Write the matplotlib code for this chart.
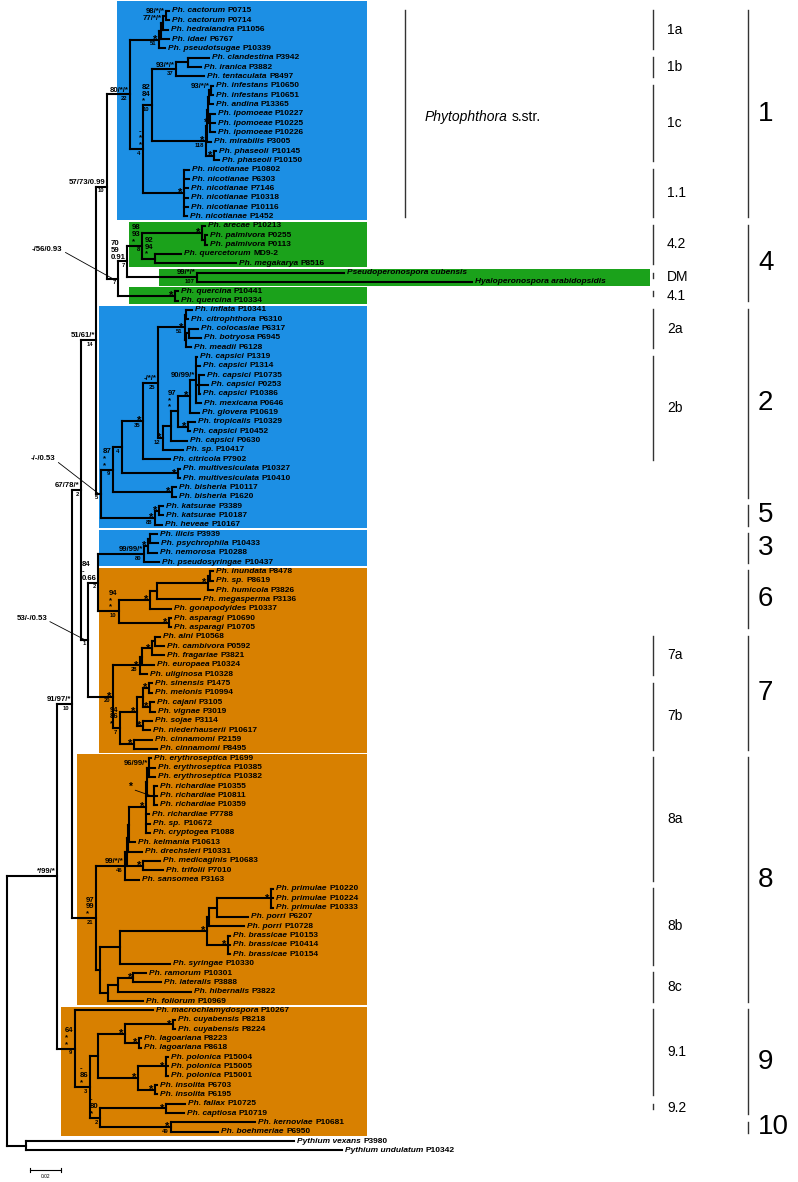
import matplotlib
matplotlib.use('Agg')
import matplotlib.pyplot as plt
from matplotlib.collections import LineCollection
from matplotlib.patches import Rectangle
from matplotlib.transforms import blended_transform_factory

plt.rcParams['font.family'] = ['Liberation Sans', 'DejaVu Sans']

# ---- tree data (newick pieces, branch lengths in substitutions/site) ----
CLADE_1 = ("(((((Ph._cactorum_P0715:0.0019,Ph._cactorum_P0714:0.0019)Ncac:0.0019,"
           "Ph._hedraiandra_P11056:0.0032)Nch:0.0013,Ph._idaei_P6767:0.0052)N1a1:0.0013,"
           "Ph._pseudotsugae_P10339:0.0039)N1a:0.0187,"
           "((((Ph._clandestina_P3942:0.0135,Ph._iranica_P3882:0.0084)Nci:0.0077,"
           "Ph._tentaculata_P8497:0.0181)N1b:0.0155,"
           "(((((Ph._infestans_P10650:0.0013,Ph._infestans_P10651:0.0013)Ninf:0.0013,"
           "Ph._andina_P13365:0.0026)Nia:0.0006,(Ph._ipomoeae_P10227:0.0032,"
           "Ph._ipomoeae_P10225:0.0032,Ph._ipomoeae_P10226:0.0032)Nipo:0.0013)Niai:0.0006,"
           "Ph._mirabilis_P3005:0.0026)Nim:0.0006,(Ph._phaseoli_P10145:0.0013,"
           "Ph._phaseoli_P10150:0.0032)Npha:0.0052)N1c:0.0348)N1bc:0.0058,"
           "(Ph._nicotianae_P10802:0.0032,Ph._nicotianae_P6303:0.0032,Ph._nicotianae_P7146:0.0026,"
           "Ph._nicotianae_P10318:0.0026,Ph._nicotianae_P10116:0.0026,"
           "Ph._nicotianae_P1452:0.0019)N11:0.0265)N4:0.0084)C1:0.0148")

CLADE_4 = ("((((Ph._arecae_P10213:0.0019,(Ph._palmivora_P0255:0.0013,"
           "Ph._palmivora_P0113:0.0013)Npal:0.0019)Nap:0.0387,(Ph._quercetorum_MD9-2:0.0168,"
           "Ph._megakarya_P8516:0.0523)Nqm:0.0084)N42:0.0097,(Pseudoperonospora_cubensis:0.0948,"
           "Hyaloperonospora_arabidopsidis:0.1774)NDM:0.0452)N70:0.0058,"
           "(Ph._quercina_P10441:0.0019,Ph._quercina_P10334:0.0019)Nquer:0.0368)N56:0.0071")

CLADE_2_5 = ("(((((((Ph._inflata_P10341:0.0039,Ph._citrophthora_P6310:0.0013)Nic:0.0006,"
             "((Ph._colocasiae_P6317:0.0058,Ph._botryosa_P6945:0.0077)Ncb:0.0019,"
             "Ph._meadii_P6128:0.0032)Ncbm:0.0006)N2a:0.0174,"
             "(((((Ph._capsici_P1319:0.0006,Ph._capsici_P1314:0.0026,(Ph._capsici_P10735:0.0032,"
             "Ph._capsici_P0253:0.0058,Ph._capsici_P10386:0.0006)Ncc:0.0019,"
             "Ph._mexicana_P0646:0.0032)N90:0.0039,Ph._glovera_P10619:0.0058)Ncg:0.0077,"
             "(Ph._tropicalis_P10329:0.0045,Ph._capsici_P10452:0.0013)Ntc:0.0065)N97:0.0045,"
             "Ph._capsici_P0630:0.0103)N12a:0.0052,Ph._sp._P10417:0.0129)N12:0.0032)N25:0.0097,"
             "Ph._citricola_P7902:0.0174)N35:0.0135,(Ph._multivesiculata_P10327:0.0013,"
             "Ph._multivesiculata_P10410:0.0013)Nmv:0.0361)N4b:0.0058,"
             "(Ph._bisheria_P10117:0.0026,Ph._bisheria_P1620:0.0026)Nbis:0.0381)N87:0.0077,"
             "((Ph._katsurae_P3389:0.0026,Ph._katsurae_P10187:0.0026)Nkat:0.0026,"
             "Ph._heveae_P10167:0.0045)N5:0.0348)N053:0.0032")

CLADE_3_6_7 = ("(((((Ph._ilicis_P3939:0.0045,Ph._psychrophila_P10433:0.0052)Nip:0.0013,"
               "Ph._nemorosa_P10288:0.0058)Ninp:0.0026,Ph._pseudosyringae_P10437:0.0097)C3:0.0297,"
               "(((((Ph._inundata_P8478:0.0019,Ph._sp._P8619:0.0019)Nis:0.0013,"
               "Ph._humicola_P3826:0.0032)Ninu:0.0329,Ph._megasperma_P3136:0.0277)N6b:0.0045,"
               "Ph._gonapodyides_P10337:0.0135)N6a:0.0200,(Ph._asparagi_P10690:0.0013,"
               "Ph._asparagi_P10705:0.0013)Nasp:0.0323)C6:0.0135)N84:0.0065,"
               "(((((Ph._alni_P10568:0.0032,Ph._cambivora_P0592:0.0058)Nac:0.0019,"
               "Ph._fragariae_P3821:0.0077)N7a2:0.0065,Ph._europaea_P10324:0.0077)N7a1:0.0013,"
               "Ph._uliginosa_P10328:0.0045)N7a:0.0174,"
               "((((Ph._sinensis_P1475:0.0019,Ph._melonis_P10994:0.0019)Nsm:0.0039,"
               "(Ph._cajani_P3105:0.0026,Ph._vignae_P3019:0.0032)Ncv:0.0045)Nsmcv:0.0039,"
               "(Ph._sojae_P3114:0.0058,Ph._niederhauserii_P10617:0.0045)Nsn:0.0039)N7b:0.0110,"
               "(Ph._cinnamomi_P2159:0.0116,Ph._cinnamomi_P8495:0.0148)Ncin:0.0090)N94:0.0045)C7:0.0161)N053b:0.0045")

CLADE_8 = ("((((((((Ph._erythroseptica_P1699:0.0013,Ph._erythroseptica_P10385:0.0039,"
           "Ph._erythroseptica_P10382:0.0039)Nery:0.0013,(Ph._richardiae_P10355:0.0019,"
           "Ph._richardiae_P10811:0.0019,Ph._richardiae_P10359:0.0019)Nric:0.0045)Ner:0.0006,"
           "Ph._richardiae_P7788:0.0019,Ph._sp._P10672:0.0026,Ph._cryptogea_P1088:0.0026)Ncr:0.0110,"
           "Ph._kelmania_P10613:0.0039)Nz:0.0006,Ph._drechsleri_P10331:0.0090)Ny:0.0006,"
           "(Ph._medicaginis_P10683:0.0110,Ph._trifolii_P7010:0.0129)Nmt:0.0103)Nx:0.0013,"
           "Ph._sansomea_P3163:0.0090)N8a:0.0187,"
           "((((((Ph._primulae_P10220:0.0013,Ph._primulae_P10224:0.0013,Ph._primulae_P10333:0.0013)Nprim:0.0348,"
           "Ph._porri_P6207:0.0200)Npp2:0.0052,Ph._porri_P10728:0.0226)Npp:0.0013,"
           "(Ph._brassicae_P10153:0.0013,Ph._brassicae_P10414:0.0013,Ph._brassicae_P10154:0.0013)Nbra:0.0135)Nppb:0.0561,"
           "Ph._syringae_P10330:0.0323)N8b:0.0129,"
           "(((Ph._ramorum_P10301:0.0084,Ph._lateralis_P3888:0.0181)Nrl:0.0097,"
           "Ph._hibernalis_P3822:0.0471)Nrlh:0.0065,Ph._foliorum_P10969:0.0226)N8c:0.0052)N8bc:0.0026)C8:0.0155")

CLADE_9_10 = ("(Ph._macrochlamydospora_P10267:0.0503,((((Ph._cuyabensis_P8218:0.0013,"
              "Ph._cuyabensis_P8224:0.0013)Ncuy:0.0310,(Ph._lagoariana_P8223:0.0013,"
              "Ph._lagoariana_P8618:0.0013)Nlag:0.0090)NB:0.0174,((Ph._polonica_P15004:0.0013,"
              "Ph._polonica_P15005:0.0013,Ph._polonica_P15001:0.0013)Npol:0.0181,"
              "(Ph._insolita_P6703:0.0013,Ph._insolita_P6195:0.0013)Nins:0.0110)NC:0.0258)NA:0.0052,"
              "((Ph._fallax_P10725:0.0123,Ph._captiosa_P10719:0.0116)Nfc:0.0426,"
              "(Ph._kernoviae_P10681:0.0542,Ph._boehmeriae_P6950:0.0303)Nkb:0.0458)N80:0.0065)N86:0.0097)C9:0.0116")

OUTGROUP = "(Pythium_vexans_P3980:0.1729,Pythium_undulatum_P10342:0.2039)Npy:0.0123"

N67 = "(((" + CLADE_1 + "," + CLADE_4 + ")N57:0.0071," + CLADE_2_5 + ")N51:0.0097," + CLADE_3_6_7 + ")N67:0.0058"
TREE = "(((" + N67 + "," + CLADE_8 + ")N91:0.0097," + CLADE_9_10 + ")ING:0.0323," + OUTGROUP + ")root;"

# bootstrap / posterior support: node -> (above branch, below branch)
SUPPORT = {
    "ING": ("*/99/*", ""), "N91": ("91/97/*", "10"), "N67": ("67/78/*", "2"),
    "N51": ("51/61/*", "14"), "N57": ("57/73/0.99", "10"), "C1": ("80/*/*", "22"),
    "N1a": ("*", "51"), "Nch": ("77/*/*", ""), "Ncac": ("98/*/*", ""),
    "N4": ("-\n*\n*", "4"), "N1bc": ("82\n84\n*", "10"), "N1b": ("93/*/*", "37"),
    "Ninf": ("93/*/*", ""), "N1c": ("*", "118"), "Nipo": ("*", ""), "Npha": ("*", ""),
    "N11": ("*", ""), "N56": ("-/56/0.93", "7"), "N70": ("70\n59\n0.91", "7"),
    "N42": ("98\n93\n*", "8"), "Nqm": ("92\n94\n*", ""), "Nap": ("*", ""),
    "NDM": ("99/*/*", "107"), "Nquer": ("*", ""), "N053": ("-/-/0.53", "5"),
    "N87": ("87\n*\n*", "9"), "N4b": ("", "4"), "N35": ("*", "35"), "N25": ("-/*/*", "25"),
    "N2a": ("*", "51"), "N12": ("*", "12"), "N97": ("97\n*\n*", ""), "Ncg": ("*", ""),
    "N90": ("90/99/*", ""), "Ntc": ("*", ""), "Nmv": ("*", ""), "Nbis": ("*", ""),
    "N5": ("*", "88"), "Nkat": ("*", ""), "N053b": ("53/-/0.53", "1"),
    "N84": ("84\n-\n0.66", "2"), "C3": ("99/99/*", "80"), "Ninp": ("*", ""),
    "C6": ("94\n*\n*", "10"), "N6a": ("*", ""), "Ninu": ("*", ""), "Nasp": ("*", ""),
    "C7": ("*", "20"), "N7a": ("*", "28"), "N7a2": ("*", ""), "N94": ("94\n86\n*", "7"),
    "N7b": ("*", ""), "Nsm": ("*", ""), "Ncv": ("*", ""), "Nsn": ("*", ""), "Ncin": ("*", ""),
    "C8": ("97\n99\n*", "21"), "N8a": ("99/*/*", "46"), "Nery": ("96/99/*", ""),
    "Nric": ("*", ""), "Ncr": ("*", ""), "Nmt": ("*", ""), "Nppb": ("*", ""),
    "Nprim": ("*", ""), "Nbra": ("*", ""), "Nrl": ("*", ""), "C9": ("64\n*\n*", "9"),
    "N86": ("-\n86\n*", "3"), "N80": ("-\n80\n*", "2"), "NB": ("*", ""), "Ncuy": ("*", ""),
    "Nlag": ("*", ""), "NC": ("*", ""), "Npol": ("*", ""), "Nins": ("*", ""),
    "Nfc": ("*", ""), "Nkb": ("*", "49"),
}

# clade brackets: label, first leaf, last leaf
SUBCLADES = [("1a", 0, 4), ("1b", 5, 7), ("1c", 8, 16), ("1.1", 17, 22), ("4.2", 23, 27),
             ("DM", 28, 29), ("4.1", 30, 31), ("2a", 32, 36), ("2b", 37, 48), ("7a", 67, 71),
             ("7b", 72, 79), ("8a", 80, 93), ("8b", 94, 102), ("8c", 103, 106),
             ("9.1", 107, 116), ("9.2", 117, 118)]
MAJOR = [("1", 0, 22), ("4", 23, 31), ("2", 32, 52), ("5", 53, 55), ("3", 56, 59),
         ("6", 60, 66), ("7", 67, 79), ("8", 80, 106), ("9", 107, 118), ("10", 119, 120)]

# ---- styling ----
BLUE, GREEN, ORANGE = '#1c8fe4', '#1ba21b', '#d88000'
PX = 0.02 / 31          # substitutions per pixel (from the scale bar)
ROW = 9.34              # pixels between leaves
# shaded boxes: first leaf, last leaf, left edge, right edge (tree units)
BOXES = [(0, 22, 110 * PX, 360 * PX, BLUE), (23, 27, 122 * PX, 360 * PX, GREEN),
         (28, 29, 152 * PX, 643 * PX, GREEN), (30, 31, 122 * PX, 360 * PX, GREEN),
         (32, 55, 92 * PX, 360 * PX, BLUE), (56, 59, 92 * PX, 360 * PX, BLUE),
         (60, 79, 92 * PX, 360 * PX, ORANGE), (80, 106, 70 * PX, 360 * PX, ORANGE),
         (107, 120, 54 * PX, 360 * PX, ORANGE)]
LEADERS = {"N56": (-36, 21), "N053": (-31, 25), "N053b": (-27, 15), "Nric": (-13, 6)}


def parse_newick(s):
    s = s.strip().rstrip(';')
    pos = 0

    def node():
        nonlocal pos
        n = {'children': [], 'name': '', 'length': 0.0}
        if s[pos] == '(':
            pos += 1
            while True:
                n['children'].append(node())
                if s[pos] == ',':
                    pos += 1
                    continue
                pos += 1  # ')'
                break
        start = pos
        while pos < len(s) and s[pos] not in ':,()':
            pos += 1
        n['name'] = s[start:pos]
        if pos < len(s) and s[pos] == ':':
            pos += 1
            start = pos
            while pos < len(s) and s[pos] not in ',()':
                pos += 1
            n['length'] = float(s[start:pos])
        return n
    return node()


tree = parse_newick(TREE)
nodes, leaves = {}, []


def layout(n, x0):
    n['x'] = x0 + n['length']
    nodes[n['name']] = n
    if n['children']:
        for c in n['children']:
            layout(c, n['x'])
        n['y'] = (n['children'][0]['y'] + n['children'][-1]['y']) / 2
    else:
        n['y'] = len(leaves)
        leaves.append(n)


layout(tree, 0.0)

segs = []


def collect(n, px):
    if px is not None:
        segs.append([(px, n['y']), (n['x'], n['y'])])
    if n['children']:
        segs.append([(n['x'], n['children'][0]['y']), (n['x'], n['children'][-1]['y'])])
        for c in n['children']:
            collect(c, n['x'])
        for c in n['children']:
            c['parent_x'] = n['x']


collect(tree, None)

fig = plt.figure(figsize=(7.98, 11.82), dpi=100)
ax = fig.add_axes([0, 0, 1, 1])
ax.set_xlim(-7 * PX, 791 * PX)
ax.set_ylim((1182 - 11) / ROW, -11 / ROW)
ax.axis('off')

for a, b, x0, x1, col in BOXES:
    top = a - 0.4 if a > 0 else -1.1
    ax.add_patch(Rectangle((x0, top), x1 - x0, b + 0.4 - top, facecolor=col,
                           edgecolor='none', zorder=1))

ax.add_collection(LineCollection(segs, colors='black', linewidths=1.5,
                                 capstyle='projecting', zorder=3))

# leaf labels: italic name + plain accession
for leaf in leaves:
    parts = leaf['name'].split('_')
    if any(ch.isdigit() for ch in parts[-1]):
        sp, acc = ' '.join(parts[:-1]), parts[-1]
    else:
        sp, acc = ' '.join(parts), ''
    t = ax.annotate(sp, (leaf['x'], leaf['y']), xytext=(2.2, 0), textcoords='offset points',
                    ha='left', va='center', fontsize=6, fontweight='bold', fontstyle='italic', zorder=4)
    if acc:
        ax.annotate(acc, xy=(1, 0.5), xycoords=t, xytext=(1.7, 0), textcoords='offset points',
                    ha='left', va='center', fontsize=6, fontweight='bold', zorder=4)

# support values
for name, (above, below) in SUPPORT.items():
    n = nodes[name]
    x, y = n['x'], n['y']
    if name in LEADERS:
        xm = (n['parent_x'] + x) / 2
        ax.annotate(above, (xm, y), xytext=LEADERS[name], textcoords='offset points',
                    ha='right', va='center', fontsize=7.5 if above == '*' else 5.6,
                    fontweight='bold', zorder=4,
                    arrowprops=dict(arrowstyle='-', lw=0.6, color='black', relpos=(1, 0.3),
                                    shrinkA=0, shrinkB=0))
    elif above == '*':
        ax.annotate('*', (x, y), xytext=(-1.0, -2.2), textcoords='offset points',
                    ha='right', va='baseline', fontsize=8, fontweight='bold', zorder=4)
    elif above:
        ax.annotate(above, (x, y), xytext=(-1.0, 0.6), textcoords='offset points',
                    ha='right', va='bottom', fontsize=5.6, fontweight='bold',
                    multialignment='left', linespacing=0.95, zorder=4)
    if below:
        ax.annotate(below, (x, y), xytext=(-1.8, -1.3), textcoords='offset points',
                    ha='right', va='top', fontsize=4.2, fontweight='bold', zorder=4)

# right-hand clade brackets
trans = blended_transform_factory(ax.transAxes, ax.transData)
ax.plot([0.5075, 0.5075], [-0.1, 22.1], transform=trans, color='#333333', lw=1)
t = ax.text(0.5326, 11.4, 'Phytophthora', transform=trans, fontstyle='italic',
            fontsize=10, va='center', ha='left')
ax.annotate('s.str.', xy=(1, 0.5), xycoords=t, xytext=(2.8, 0), textcoords='offset points',
            fontsize=10, va='center', ha='left')

for lab, a, b in SUBCLADES:
    y0, y1 = (a - 0.1, b + 0.1) if b - a >= 2 else (a, a + 0.55)
    ax.plot([0.8183, 0.8183], [y0, y1], transform=trans, color='#333333', lw=1)
    ax.text(0.8358, (a + b) / 2, lab, transform=trans, fontsize=10, va='center', ha='left')

for lab, a, b in MAJOR:
    ax.plot([0.9373, 0.9373], [a - 0.1, b + 0.1], transform=trans, color='#333333', lw=1)
    ax.text(0.950, (a + b) / 2, lab, transform=trans, fontsize=20, va='center', ha='left')

# scale bar
sx = 23 * PX
sy = (1170 - 11) / ROW
ax.plot([sx, sx + 0.02], [sy, sy], color='black', lw=0.8)
ax.plot([sx, sx], [sy - 0.25, sy + 0.25], color='black', lw=0.8)
ax.plot([sx + 0.02, sx + 0.02], [sy - 0.25, sy + 0.25], color='black', lw=0.8)
ax.text(sx + 0.01, sy + 0.45, '0.02', fontsize=3.5, ha='center', va='top')

fig.savefig('out.png', dpi=100)
